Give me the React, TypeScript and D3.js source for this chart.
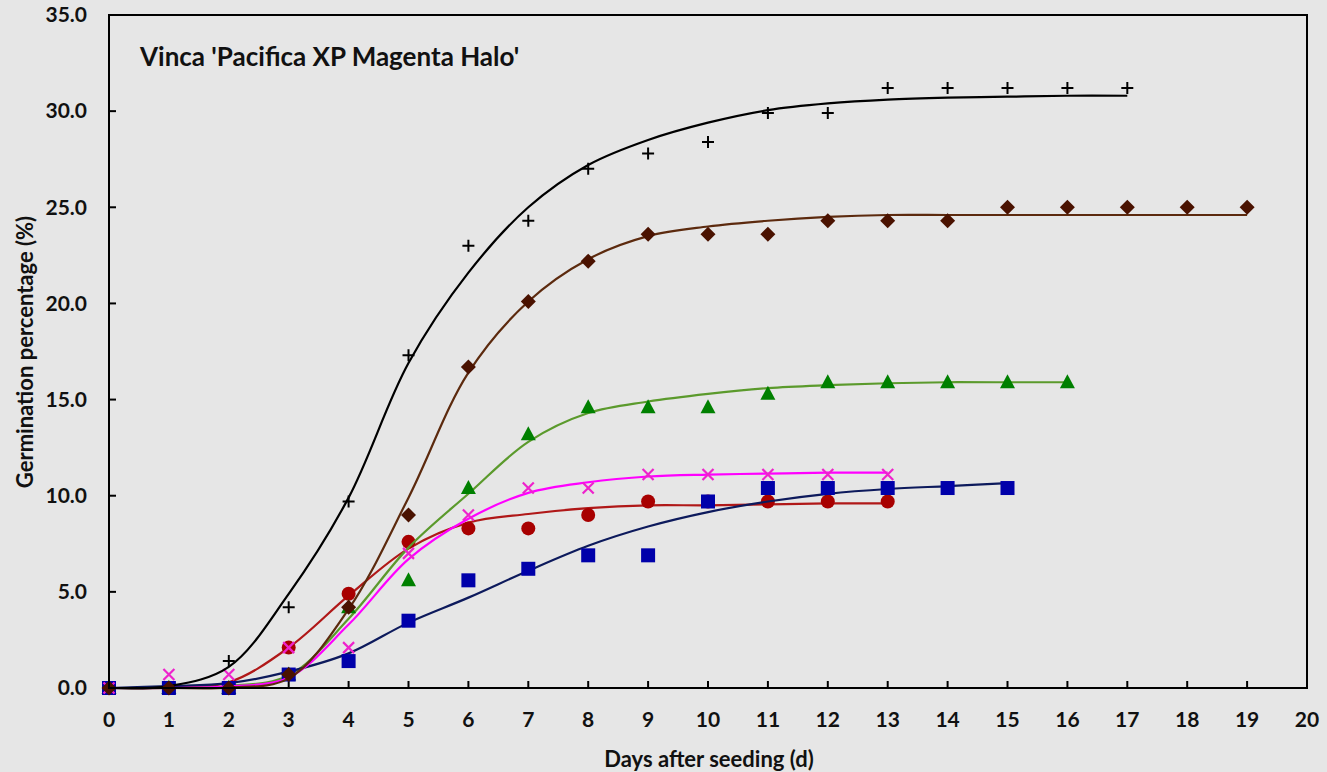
import React from "react";
import * as d3 from "d3";

const W = 1327, H = 772;
const M = { left: 109, right: 1307, top: 15, bottom: 688 };

const xTicks = d3.range(0, 21);
const yTicks = [0, 5, 10, 15, 20, 25, 30, 35];

// Observed germination (%) by day
const blackObs = [0, 0, 1.4, 4.2, 9.7, 17.3, 23.0, 24.3, 27.0, 27.8, 28.4, 29.9, 29.9, 31.2, 31.2, 31.2, 31.2, 31.2];
const brownObs = [0, 0, 0, 0.7, 4.2, 9.0, 16.7, 20.1, 22.2, 23.6, 23.6, 23.6, 24.3, 24.3, 24.3, 25.0, 25.0, 25.0, 25.0, 25.0];
const greenObs = [0, 0, 0, 0.7, 4.2, 5.6, 10.4, 13.2, 14.6, 14.6, 14.6, 15.3, 15.9, 15.9, 15.9, 15.9, 15.9];
const magentaObs = [0, 0.7, 0.7, 2.1, 2.1, 7.0, 9.0, 10.4, 10.4, 11.1, 11.1, 11.1, 11.1, 11.1];
const redObs = [0, 0, 0, 2.1, 4.9, 7.6, 8.3, 8.3, 9.0, 9.7, 9.7, 9.7, 9.7, 9.7];
const blueObs = [0, 0, 0, 0.7, 1.4, 3.5, 5.6, 6.2, 6.9, 6.9, 9.7, 10.4, 10.4, 10.4, 10.4, 10.4];

// Fitted curves at each day
const blackFit = [0, 0.1, 1.1, 4.9, 9.9, 16.9, 21.6, 25.0, 27.2, 28.5, 29.4, 30.05, 30.4, 30.6, 30.7, 30.75, 30.8, 30.8];
const brownFit = [0, 0, 0.02, 0.5, 4.1, 9.9, 16.4, 20.1, 22.3, 23.5, 24.0, 24.3, 24.5, 24.6, 24.6, 24.6, 24.6, 24.6, 24.6, 24.6];
const greenFit = [0, 0, 0.1, 0.65, 3.6, 7.3, 10.1, 12.8, 14.3, 14.9, 15.3, 15.6, 15.75, 15.85, 15.9, 15.9, 15.9];
const magentaFit = [0, 0, 0.08, 0.55, 3.3, 6.7, 8.8, 10.15, 10.7, 11.0, 11.1, 11.15, 11.2, 11.2];
const redFit = [0, 0.05, 0.3, 2.1, 4.8, 7.25, 8.6, 9.05, 9.35, 9.5, 9.5, 9.55, 9.6, 9.6];
const blueFit = [0, 0.1, 0.25, 0.85, 1.8, 3.4, 4.7, 6.1, 7.4, 8.4, 9.15, 9.7, 10.1, 10.35, 10.5, 10.65];

type S = { obs: number[]; fit: number[]; marker: string; mColor: string; lColor: string };
const series: S[] = [
  { obs: redObs, fit: redFit, marker: "circle", mColor: "#a80000", lColor: "#b01818" },
  { obs: greenObs, fit: greenFit, marker: "triangle", mColor: "#008000", lColor: "#5b9a2c" },
  { obs: blueObs, fit: blueFit, marker: "square", mColor: "#0000aa", lColor: "#0d1a5c" },
  { obs: magentaObs, fit: magentaFit, marker: "x", mColor: "#ee22cc", lColor: "#ff00ff" },
  { obs: blackObs, fit: blackFit, marker: "plus", mColor: "#000000", lColor: "#000000" },
  { obs: brownObs, fit: brownFit, marker: "diamond", mColor: "#4a1200", lColor: "#5c2a0e" },
];

const FONT = "Lato, 'Open Sans', sans-serif";

function Marker({ kind, x, y, c }: { kind: string; x: number; y: number; c: string }) {
  if (kind === "circle") return <circle cx={x} cy={y} r={7} fill={c} />;
  if (kind === "square") return <rect x={x - 7} y={y - 7} width={14} height={14} fill={c} />;
  if (kind === "triangle")
    return <path d={`M${x},${y - 8}L${x + 7.5},${y + 6}L${x - 7.5},${y + 6}Z`} fill={c} />;
  if (kind === "diamond")
    return <path d={`M${x},${y - 7.5}L${x + 7.5},${y}L${x},${y + 7.5}L${x - 7.5},${y}Z`} fill={c} />;
  if (kind === "plus")
    return (
      <path d={`M${x - 6},${y}H${x + 6}M${x},${y - 6}V${y + 6}`} stroke={c} strokeWidth={2} fill="none" />
    );
  return (
    <path
      d={`M${x - 5.5},${y - 5.5}L${x + 5.5},${y + 5.5}M${x + 5.5},${y - 5.5}L${x - 5.5},${y + 5.5}`}
      stroke={c}
      strokeWidth={2.2}
      fill="none"
    />
  );
}

export default function App() {
  const x = d3.scaleLinear().domain([0, 20]).range([M.left, M.right]);
  const y = d3.scaleLinear().domain([0, 35]).range([M.bottom, M.top]);
  const line = d3
    .line<number>()
    .x((_, i) => x(i))
    .y((d) => y(Math.max(0, d)))
    .curve(d3.curveCatmullRom.alpha(0.5));

  return (
    <svg
      width={W}
      height={H}
      style={{ position: "fixed", left: 0, top: 0, display: "block", background: "#e6e6e6" }}
      fontFamily={FONT}
    >
      <rect x={0} y={0} width={W} height={H} fill="#e6e6e6" />
      {yTicks.map((t) => (
        <g key={"y" + t}>
          <line x1={M.left} x2={M.left + 7} y1={y(t)} y2={y(t)} stroke="#000" strokeWidth={2} />
          <text x={87} y={y(t)} dy="0.35em" textAnchor="end" fontSize={21} fontWeight={700} fill="#111">
            {t.toFixed(1)}
          </text>
        </g>
      ))}
      {xTicks.map((t) => (
        <g key={"x" + t}>
          <line x1={x(t)} x2={x(t)} y1={M.bottom} y2={M.bottom - 7} stroke="#000" strokeWidth={2} />
          <text x={x(t)} y={720} dy="0.35em" textAnchor="middle" fontSize={21} fontWeight={700} fill="#111">
            {t}
          </text>
        </g>
      ))}
      {series.map((s, si) => (
        <g key={si}>
          <path d={line(s.fit) || ""} fill="none" stroke={s.lColor} strokeWidth={2.2} />
          {s.obs.map((v, i) => (
            <Marker key={i} kind={s.marker} x={x(i)} y={y(v)} c={s.mColor} />
          ))}
        </g>
      ))}
      <rect
        x={M.left}
        y={M.top}
        width={M.right - M.left}
        height={M.bottom - M.top}
        fill="none"
        stroke="#000"
        strokeWidth={2}
      />
      <text x={140} y={66} fontSize={26} fontWeight={700} fill="#111">
        Vinca 'Pacifica XP Magenta Halo'
      </text>
      <text x={709} y={759} dy="0.35em" textAnchor="middle" fontSize={22} fontWeight={700} fill="#111">
        Days after seeding (d)
      </text>
      <text
        transform={`translate(25,352) rotate(-90)`}
        textAnchor="middle"
        dy="0.35em"
        fontSize={22}
        fontWeight={700}
        fill="#111"
      >
        Germination percentage (%)
      </text>
    </svg>
  );
}
